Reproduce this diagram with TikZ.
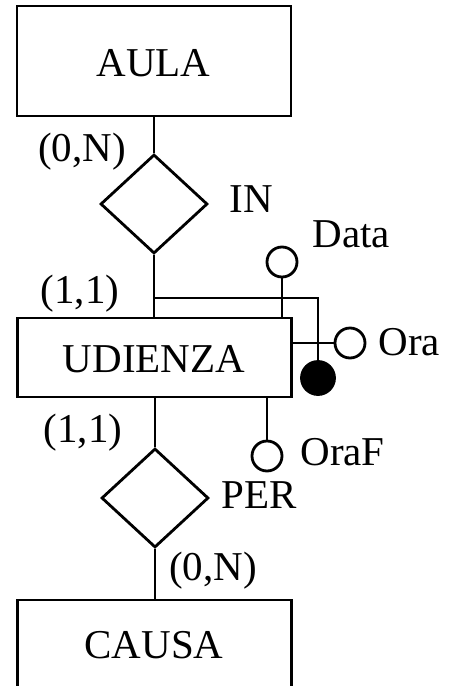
\documentclass[tikz,border=0pt]{standalone}
\usepackage{fontspec}
\setmainfont{Liberation Serif}
\usetikzlibrary{shapes.geometric}
\tikzset{
  entity/.style={draw, rectangle, minimum width=274pt, inner sep=0pt},
  rel/.style={draw, diamond, minimum width=107pt, minimum height=99pt, inner sep=0pt},
  attr/.style={draw, circle, minimum size=30pt, inner sep=0pt, fill=white},
  ident/.style={draw, circle, minimum size=33pt, inner sep=0pt, fill=black},
  lbl/.style={anchor=base, inner sep=0pt}
}
\begin{document}
\begin{tikzpicture}[x=1pt, y=-1pt, line width=2.8pt,
  every node/.append style={font=\fontsize{41}{49}\selectfont}]
    \useasboundingbox (0,0) rectangle (454,686);
    \clip (0,0) rectangle (454,686);
    % Entities
    \node[entity, minimum height=110pt] (aula) at (154,61) {};
    \node[entity, minimum height=79pt] (udienza) at (154.5,357.5) {};
    \node[entity, minimum height=110pt] (causa) at (154.5,655) {};
    \node[lbl] at (153.5,76) {AULA};
    \node[lbl] at (154,372) {UDIENZA};
    \node[lbl] at (154,658) {CAUSA};
    % Relationships
    \node[rel] (in) at (154,204) {};
    \node[rel] (per) at (155,498) {};
    \node[lbl, anchor=base west] at (228,212) {IN};
    \node[lbl, anchor=base west] at (220,508) {PER};
    \draw (aula.south) -- (in.north);
    \draw (in.south) -- (in.south |- udienza.north);
    \draw (udienza.south -| per.north) -- (per.north);
    \draw (per.south) -- (per.south |- causa.north);
    % Cardinalities
    \node[lbl] at (82,161) {(0,N)};
    \node[lbl] at (80,303) {(1,1)};
    \node[lbl] at (83,442) {(1,1)};
    \node[lbl] at (213,580) {(0,N)};
    % Attributes
    \node[attr] (data) at (282,262) {};
    \node[attr] (ora) at (350,343) {};
    \node[attr] (oraf) at (267,456) {};
    \node[lbl, anchor=base west] at (311,247) {Data};
    \node[lbl, anchor=base west] at (377,355) {Ora};
    \node[lbl, anchor=base west] at (299,465) {OraF};
    % External identifier
    \coordinate (j) at (154,298);
    \node[ident] (idf) at (318,378) {};
    \draw (j) -| (idf.north);
    \draw (data.south) -- (data.south |- udienza.north);
    \draw (udienza.east |- ora.west) -- (ora.west);
    \draw (oraf.north |- udienza.south) -- (oraf.north);
\end{tikzpicture}
\end{document}
